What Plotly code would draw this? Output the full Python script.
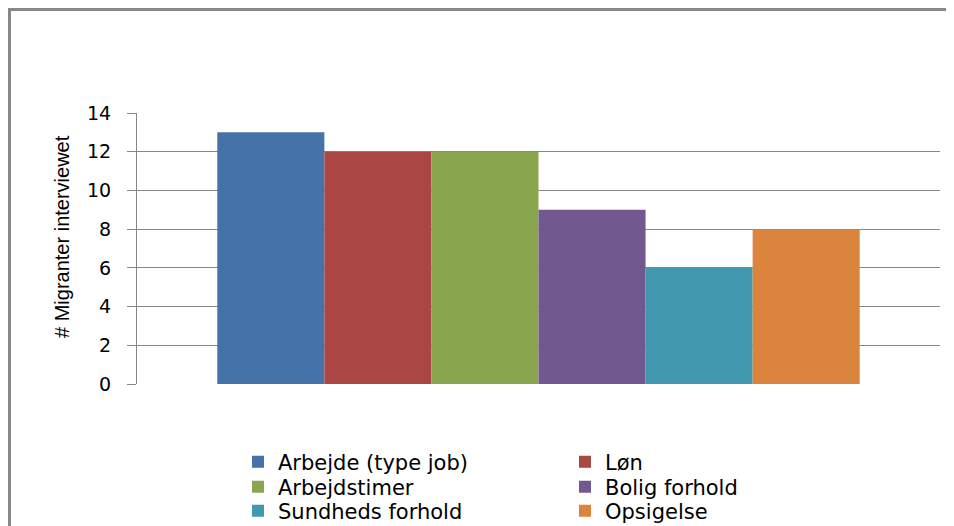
import plotly.graph_objects as go

category = [""]
series_names = ["Arbejde (type job)", "Løn", "Arbejdstimer", "Bolig forhold", "Sundheds forhold", "Opsigelse"]
series_values = [13, 12, 12, 9, 6, 8]
series_colors = ["#4572A7", "#AA4643", "#89A54E", "#71588F", "#4198AF", "#DB843D"]
y_ticks = [0, 2, 4, 6, 8, 10, 12, 14]
y_title = "# Migranter interviewet"

W, H = 954, 526
OFF = 8  # page offset of the figure inside the browser window
L, T = 137 - OFF, 113 - OFF
R, B = W - (940 - OFF), H - (384 - OFF)
pw, ph = W - L - R, H - T - B


def px_x(p):
    return (p - OFF - L) / pw


def px_y(p):
    return (H - B - (p - OFF)) / ph


legend_ids = ["legend", "legend2", "legend3", "legend4", "legend5", "legend6"]
col_left = [238, 565]
row_mid = [462, 487, 511]

fig = go.Figure()
for i, (name, val, col) in enumerate(zip(series_names, series_values, series_colors)):
    fig.add_trace(go.Bar(x=category, y=[val], name=name, legend=legend_ids[i],
                         marker=dict(color=col, line=dict(width=0))))

legend_font = dict(family="DejaVu Sans", size=21, color="#000000")
legend_layouts = {}
for i, lid in enumerate(legend_ids):
    r, c = divmod(i, 2)
    legend_layouts[lid] = dict(
        x=px_x(col_left[c]), y=px_y(row_mid[r]), xanchor="left", yanchor="middle",
        font=legend_font, bgcolor="rgba(0,0,0,0)", borderwidth=0, itemwidth=30,
    )

fig.update_layout(
    width=W, height=H,
    margin=dict(l=L, r=R, t=T, b=B, autoexpand=False),
    paper_bgcolor="white", plot_bgcolor="white",
    barmode="group", bargap=0.2, bargroupgap=0,
    showlegend=True,
    xaxis=dict(showticklabels=False, showline=False, showgrid=False, zeroline=False, ticks=""),
    yaxis=dict(
        range=[0, 14], tickvals=y_ticks, showgrid=True, gridcolor="#878787", gridwidth=1,
        showline=True, linecolor="#878787", linewidth=1, ticks="outside", ticklen=9,
        tickcolor="#878787", zeroline=False, ticklabelstandoff=12,
        tickfont=dict(family="DejaVu Sans", size=19, color="#000000"),
    ),
    annotations=[dict(text=y_title, textangle=-90, xref="paper", yref="paper",
                      x=px_x(62), y=px_y(237), xanchor="center", yanchor="middle",
                      showarrow=False,
                      font=dict(family="Liberation Sans Narrow, Liberation Sans", size=20, color="#000000"))],
    shapes=[dict(type="rect", xref="paper", yref="paper",
                 x0=px_x(9.5), x1=px_x(1000), y0=px_y(600), y1=px_y(9.5),
                 line=dict(color="#878787", width=3), fillcolor="rgba(0,0,0,0)", layer="below")],
    **legend_layouts,
)

fig.write_html("out.html")
